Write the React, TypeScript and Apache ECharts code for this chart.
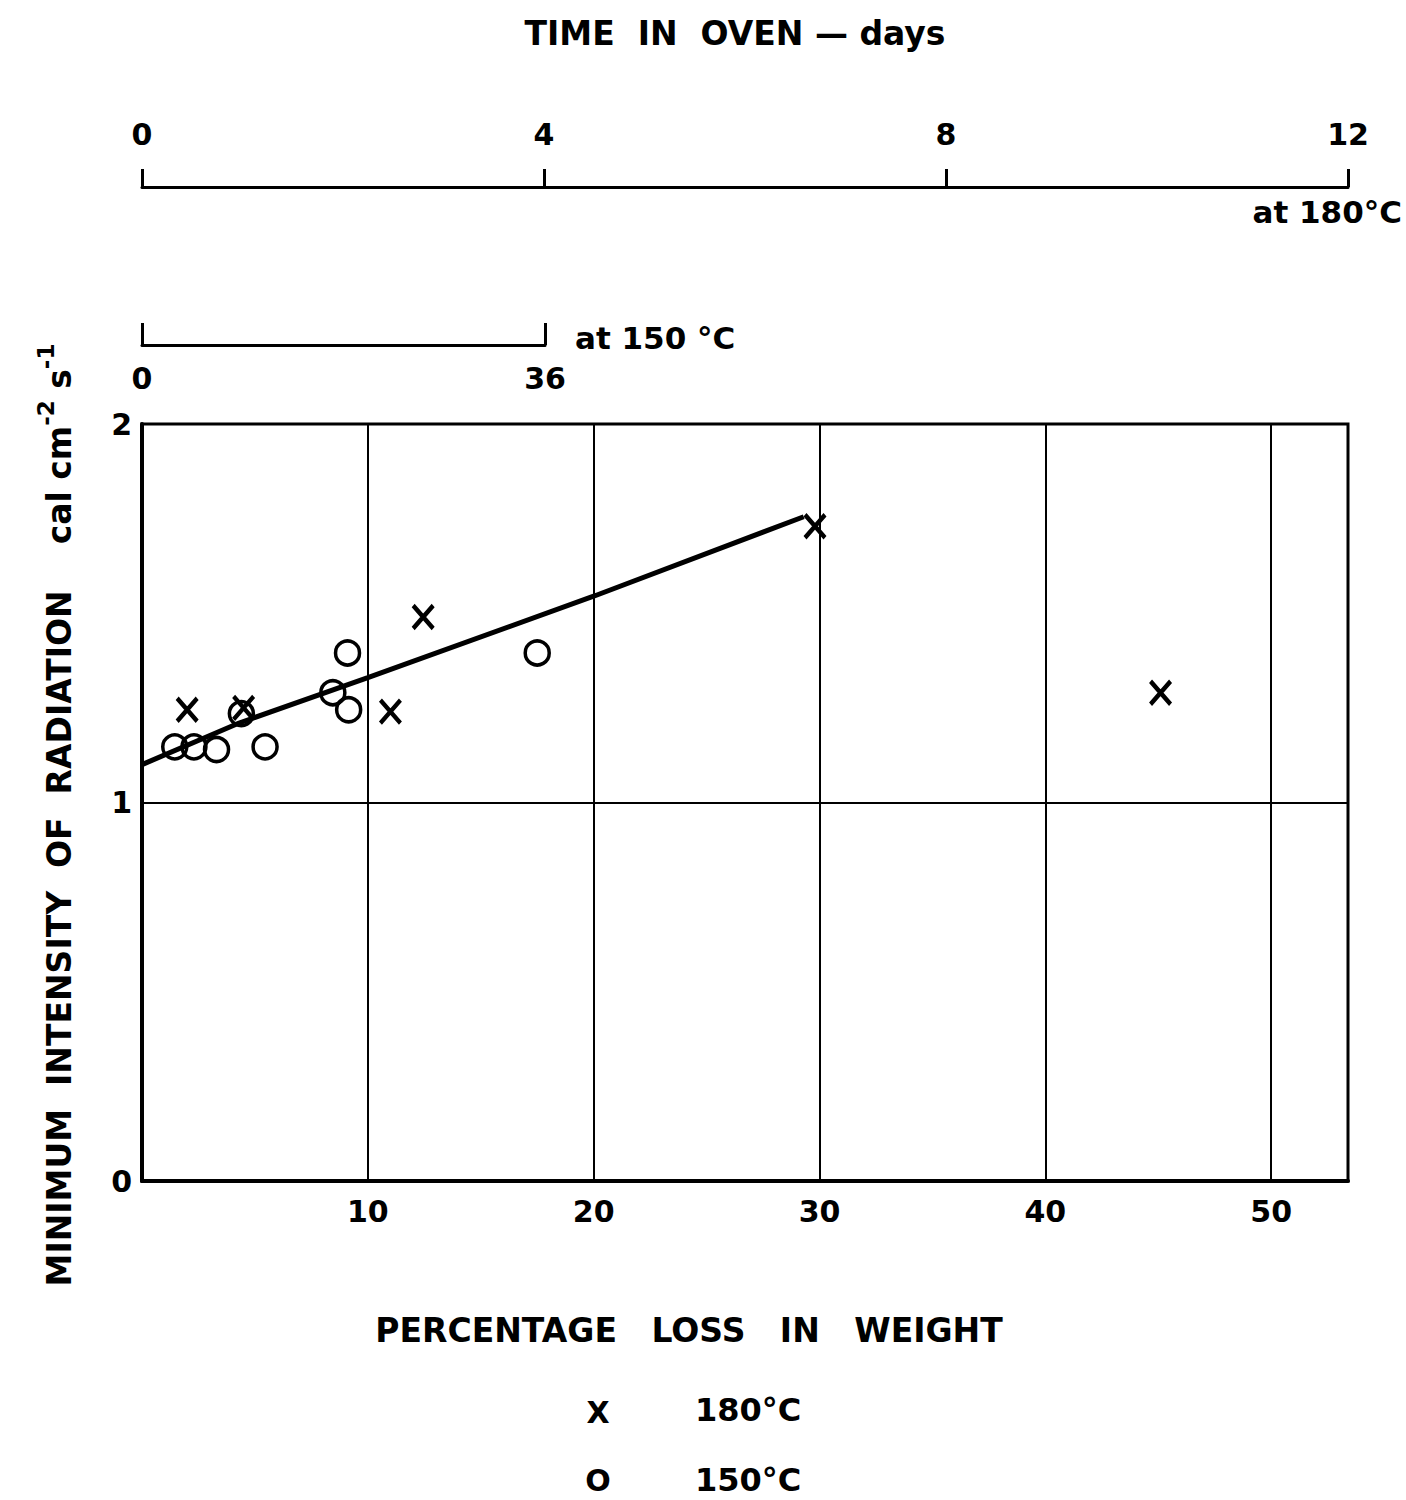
import React, { useEffect, useRef } from "react";
import * as echarts from "echarts";

// Percentage loss in weight / minimum intensity of radiation
const x180 = [2.0, 4.5, 11.0, 12.45, 29.8, 45.1];
const y180 = [1.245, 1.25, 1.24, 1.49, 1.73, 1.29];
const x150 = [1.45, 2.3, 3.3, 4.4, 5.45, 8.45, 9.1, 9.15, 17.5];
const y150 = [1.147, 1.147, 1.14, 1.235, 1.147, 1.29, 1.395, 1.245, 1.395];
// hand-drawn fitted line
const fitX = [0, 4.3, 10, 20, 29.3];
const fitY = [1.1, 1.21, 1.33, 1.545, 1.755];
// tick labels
const lossTicks = [10, 20, 30, 40, 50];
const intensityTicks = [0, 1, 2];
const days180Ticks = [0, 4, 8, 12];
const days150Ticks = [0, 36];

const FONT = "DejaVu Sans";

export default function App() {
  const ref = useRef<HTMLDivElement>(null);
  useEffect(() => {
    document.body.style.margin = "0";
    const chart = echarts.init(ref.current!, null, { renderer: "svg" });
    const pairs = (xs: number[], ys: number[]) => xs.map((x, i) => [x, ys[i]]);
    const axisFont = { fontFamily: FONT, fontSize: 30, fontWeight: "bold" as const, color: "#000" };
    chart.setOption({
      animation: false,
      backgroundColor: "#fff",
      grid: [
        { left: 142, top: 424, width: 1206, height: 757, show: true, borderColor: "#000", borderWidth: 3, backgroundColor: "transparent" },
        { left: 142, top: 177, width: 1206, height: 10 },
        { left: 142, top: 335, width: 403, height: 10 },
      ],
      xAxis: [
        {
          gridIndex: 0,
          type: "value",
          min: 0,
          max: 53.4,
          interval: 10,
          axisLine: { show: true, lineStyle: { color: "#000", width: 4 } },
          axisTick: { show: false },
          splitLine: { show: true, lineStyle: { color: "#000", width: 2 } },
          axisLabel: {
            ...axisFont,
            margin: 15,
            showMaxLabel: false,
            formatter: (v: number) => (lossTicks.includes(v) ? String(v) : ""),
          },
        },
        {
          gridIndex: 1,
          type: "value",
          position: "top",
          min: 0,
          max: 12,
          interval: 4,
          axisLine: { show: true, lineStyle: { color: "#000", width: 3 } },
          axisTick: { show: true, inside: false, length: 18, lineStyle: { color: "#000", width: 3 } },
          splitLine: { show: false },
          axisLabel: { ...axisFont, margin: 28, formatter: (v: number) => (days180Ticks.includes(v) ? String(v) : "") },
        },
        {
          gridIndex: 2,
          type: "value",
          position: "bottom",
          min: 0,
          max: 36,
          interval: 36,
          axisLine: { show: true, lineStyle: { color: "#000", width: 3 } },
          axisTick: { show: true, inside: true, length: 22, lineStyle: { color: "#000", width: 3 } },
          splitLine: { show: false },
          axisLabel: { ...axisFont, margin: 18, formatter: (v: number) => (days150Ticks.includes(v) ? String(v) : "") },
        },
      ],
      yAxis: [
        {
          gridIndex: 0,
          type: "value",
          min: 0,
          max: 2,
          interval: 1,
          axisLine: { show: true, lineStyle: { color: "#000", width: 4 } },
          axisTick: { show: false },
          splitLine: { show: true, lineStyle: { color: "#000", width: 2 } },
          axisLabel: { ...axisFont, margin: 10, formatter: (v: number) => (intensityTicks.includes(v) ? String(v) : "") },
        },
        { gridIndex: 1, type: "value", show: false },
        { gridIndex: 2, type: "value", show: false },
      ],
      series: [
        {
          name: "fit",
          type: "line",
          xAxisIndex: 0,
          yAxisIndex: 0,
          data: pairs(fitX, fitY),
          showSymbol: false,
          smooth: false,
          lineStyle: { color: "#000", width: 5 },
          z: 2,
        },
        {
          name: "180°C",
          type: "scatter",
          xAxisIndex: 0,
          yAxisIndex: 0,
          data: pairs(x180, y180),
          symbol: "path://M0,0L20,22M20,0L0,22",
          symbolSize: [20, 23],
          itemStyle: { color: "none", borderColor: "#000", borderWidth: 4.5, opacity: 1 },
          z: 3,
        },
        {
          name: "150°C",
          type: "scatter",
          xAxisIndex: 0,
          yAxisIndex: 0,
          data: pairs(x150, y150),
          symbol: "circle",
          symbolSize: 24,
          itemStyle: { color: "transparent", borderColor: "#000", borderWidth: 3.5, opacity: 1 },
          z: 3,
        },
      ],
      graphic: [
        {
          type: "text",
          x: 735,
          y: 33,
          style: { text: "TIME  IN  OVEN — days", font: `bold 33px ${FONT}`, fill: "#000", align: "center", verticalAlign: "middle" },
        },
        {
          type: "text",
          x: 1402,
          y: 212,
          style: { text: "at 180°C", font: `bold 31px ${FONT}`, fill: "#000", align: "right", verticalAlign: "middle" },
        },
        {
          type: "text",
          x: 575,
          y: 338,
          style: { text: "at 150 °C", font: `bold 31px ${FONT}`, fill: "#000", align: "left", verticalAlign: "middle" },
        },
        {
          type: "text",
          x: 689,
          y: 1330,
          style: { text: "PERCENTAGE   LOSS   IN   WEIGHT", font: `bold 33px ${FONT}`, fill: "#000", align: "center", verticalAlign: "middle" },
        },
        {
          type: "text",
          x: 55,
          y: 815,
          rotation: Math.PI / 2,
          style: {
            text: "{m|MINIMUM  INTENSITY  OF  RADIATION    cal cm}{s|-2}{m| s}{s|-1}",
            align: "center",
            verticalAlign: "middle",
            rich: {
              m: { font: `bold 33px ${FONT}`, color: "#000", verticalAlign: "bottom", lineHeight: 42 },
              s: { font: `bold 23px ${FONT}`, color: "#000", verticalAlign: "top", lineHeight: 42, padding: [0, 0, 22, 0] },
            },
          },
        },
        {
          type: "text",
          x: 598,
          y: 1412,
          style: { text: "X", font: `bold 30px ${FONT}`, fill: "#000", align: "center", verticalAlign: "middle" },
        },
        {
          type: "text",
          x: 695,
          y: 1410,
          style: { text: "180°C", font: `bold 32px ${FONT}`, fill: "#000", align: "left", verticalAlign: "middle" },
        },
        {
          type: "text",
          x: 598,
          y: 1480,
          style: { text: "O", font: `bold 30px ${FONT}`, fill: "#000", align: "center", verticalAlign: "middle" },
        },
        {
          type: "text",
          x: 695,
          y: 1480,
          style: { text: "150°C", font: `bold 32px ${FONT}`, fill: "#000", align: "left", verticalAlign: "middle" },
        },
      ],
    });
    return () => chart.dispose();
  }, []);
  return <div ref={ref} style={{ width: 1406, height: 1500 }} />;
}
